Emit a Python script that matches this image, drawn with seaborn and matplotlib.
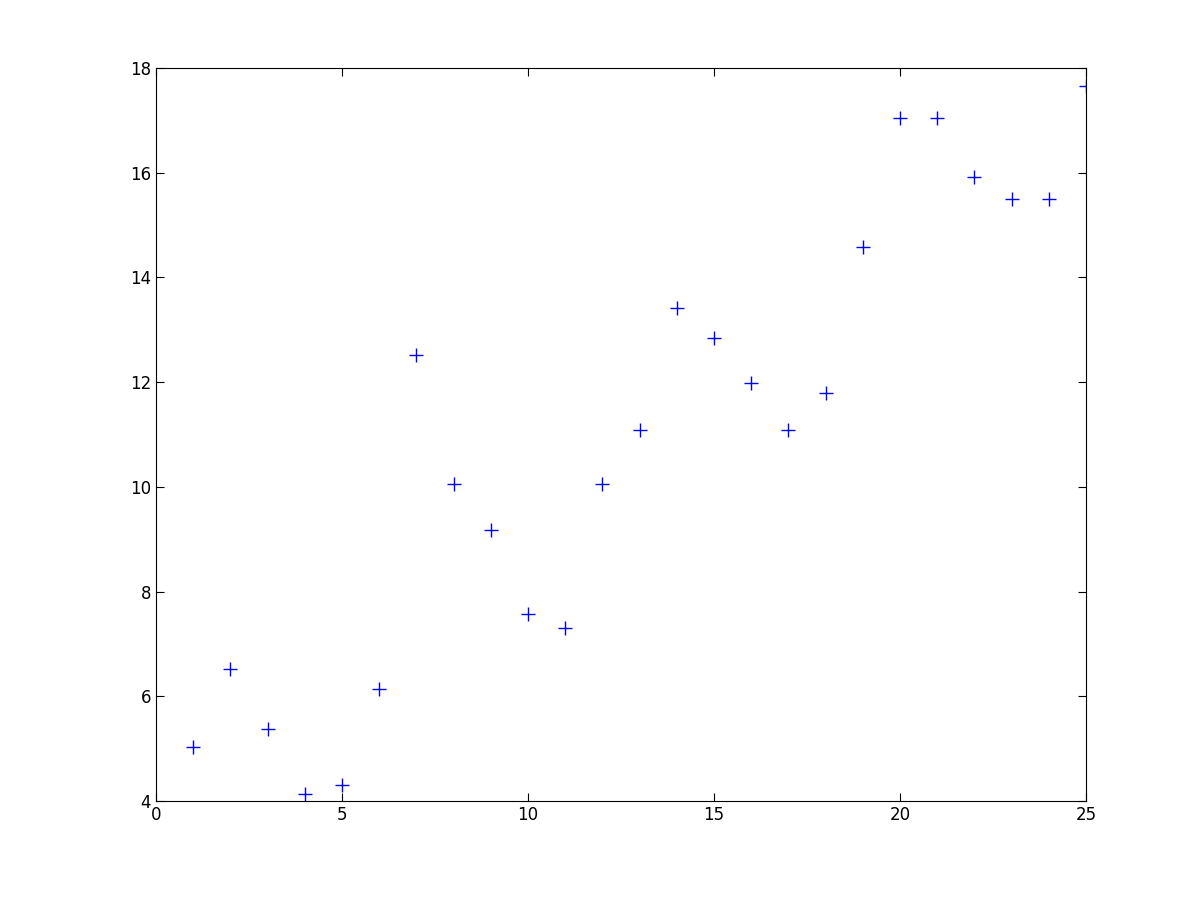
import matplotlib
matplotlib.use("Agg")
import matplotlib.pyplot as plt
import seaborn as sns
import pandas as pd

x = list(range(1, 26))
y = [5.03, 6.52, 5.37, 4.13, 4.31, 6.14, 12.52, 10.05, 9.18, 7.57, 7.30, 10.05,
     11.09, 13.42, 12.84, 11.98, 11.09, 11.79, 14.58, 17.04, 17.04, 15.92, 15.50,
     15.50, 17.66]
xticks = [0, 5, 10, 15, 20, 25]
yticks = [4, 6, 8, 10, 12, 14, 16, 18]

sns.set_style("white")
plt.rcParams['font.family'] = ['DejaVu Sans']

fig = plt.figure(figsize=(12, 9), dpi=100)
ax = fig.add_axes([0.13, 0.11, 0.775, 0.8144])
df = pd.DataFrame({"x": x, "y": y})
sns.scatterplot(data=df, x="x", y="y", marker="+", color="#0000ff", s=110,
                linewidth=1.0, ax=ax, legend=False)
ax.set_xlim(0, 25)
ax.set_ylim(4, 18)
ax.set_xticks(xticks)
ax.set_yticks(yticks)
ax.set_xlabel("")
ax.set_ylabel("")
ax.tick_params(direction="in", length=6, width=0.8, labelsize=12, top=True, right=True,
               bottom=True, left=True, colors="black")
for s in ax.spines.values():
    s.set_color("black")
    s.set_linewidth(0.8)
fig.savefig("out.png", dpi=100, facecolor="white")
